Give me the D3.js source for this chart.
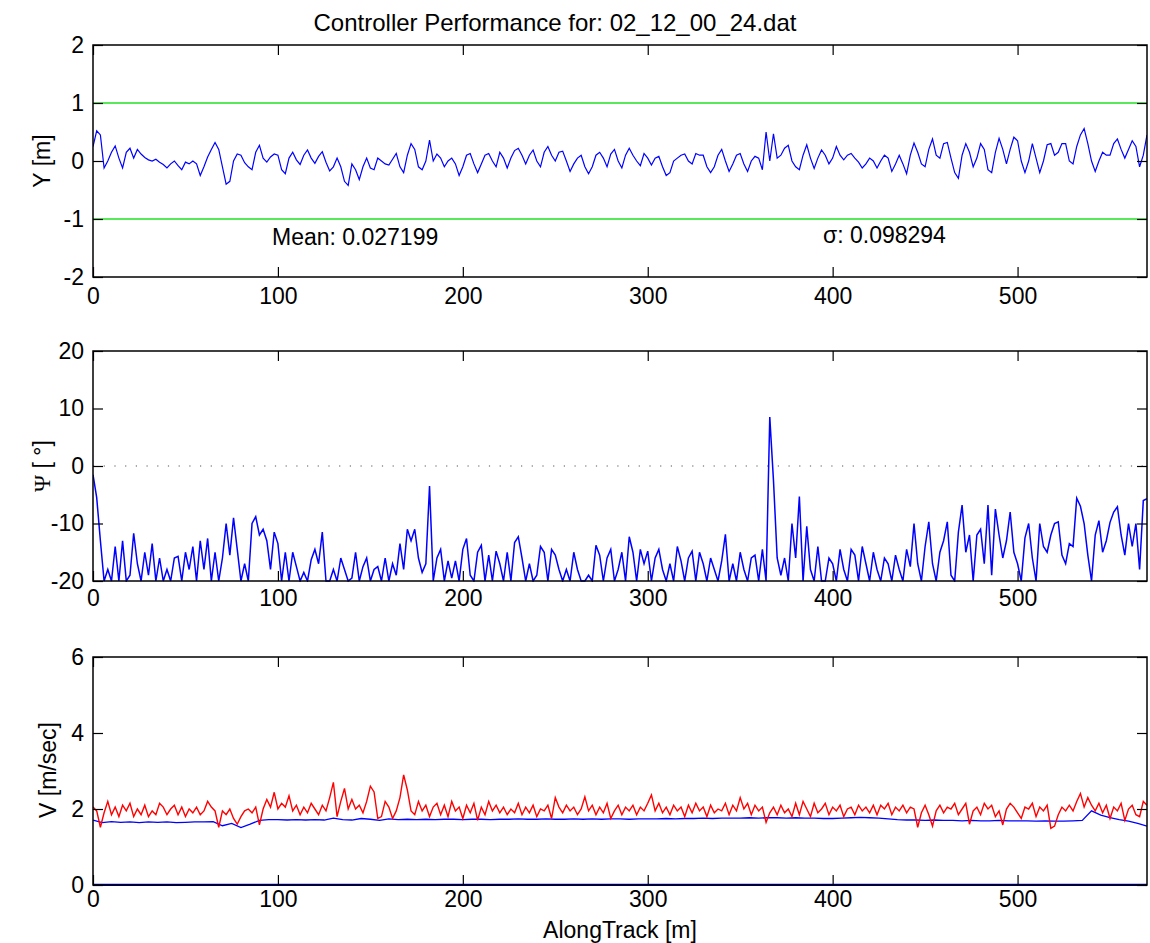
<!DOCTYPE html>
<html><head><meta charset="utf-8">
<script src="https://cdn.jsdelivr.net/npm/d3@7"></script>
<style>
body{margin:0;background:#fff;}
svg text{font-family:"Liberation Sans",Arial,Helvetica,sans-serif;fill:#000;}
</style></head>
<body><svg id="c" width="1150" height="943"></svg>
<script>
// ---------- data ----------
const titleText = "Controller Performance for: 02_12_00_24.dat";
const xTicks = [0,100,200,300,400,500];
const yTicksY = [-2,-1,0,1,2];
const yTicksPsi = [-20,-10,0,10,20];
const yTicksV = [0,2,4,6];
const stepFine = 2;   // along-track spacing [m] of fine series
const stepBlueV = 5;  // along-track spacing [m] of blue V series
const limitLines = [-1, 1];
const meanText = "Mean: 0.027199";
const sigmaText = "σ: 0.098294";

const yDev = [
0.25,0.52,0.45,-0.12,0.0,0.15,0.26,0.05,-0.12,0.15,
0.22,0.05,0.2,0.12,0.06,0.02,0.0,0.03,-0.02,-0.06,
-0.12,-0.05,0.0,-0.08,-0.15,-0.02,-0.05,0.0,-0.05,-0.25,
-0.1,0.07,0.2,0.32,0.2,-0.1,-0.4,-0.35,0.0,0.12,
0.1,-0.03,-0.1,-0.15,0.15,0.27,0.05,-0.02,0.07,0.12,
0.1,-0.15,-0.22,0.05,0.15,0.02,-0.06,0.1,0.19,0.05,
-0.04,0.08,0.16,-0.02,-0.17,-0.1,0.05,-0.1,-0.35,-0.42,
-0.05,-0.15,-0.32,-0.1,0.05,-0.12,-0.15,0.05,0.0,-0.05,
-0.07,0.03,0.13,-0.1,-0.2,0.1,0.3,0.2,-0.1,-0.15,
0.0,0.36,0.0,0.12,0.05,-0.1,0.0,0.05,-0.05,-0.25,
-0.1,0.1,0.13,-0.05,-0.2,-0.05,0.1,0.13,0.0,-0.1,
0.15,0.05,-0.12,0.05,0.18,0.22,0.1,-0.05,0.1,0.19,
0.0,-0.1,0.15,0.25,0.1,0.0,0.15,0.17,0.0,-0.18,
-0.05,0.05,0.1,-0.1,-0.22,-0.1,0.1,0.15,0.05,-0.1,
0.12,0.2,0.0,-0.12,0.1,0.22,0.1,0.0,-0.08,0.13,
0.05,-0.07,0.05,0.08,-0.1,-0.25,-0.2,0.0,0.05,0.1,
0.12,0.0,-0.05,0.13,0.1,0.1,-0.1,-0.2,-0.1,0.1,
0.2,0.0,-0.18,-0.05,0.1,0.13,-0.05,-0.18,0.0,0.08,
0.05,-0.15,0.5,0.0,0.47,0.05,0.1,0.22,0.27,0.0,
-0.1,-0.15,0.1,0.28,0.05,-0.13,0.05,0.19,0.1,-0.05,
0.05,0.25,0.1,0.02,0.1,0.13,0.05,-0.02,-0.12,-0.05,
0.05,0.0,-0.12,0.0,0.1,0.05,-0.18,-0.05,0.1,-0.05,
-0.22,0.1,0.31,0.15,-0.05,-0.1,0.2,0.38,0.1,0.05,
0.3,0.32,0.05,-0.2,-0.3,0.1,0.3,0.15,-0.1,0.05,
0.3,0.2,-0.15,-0.2,0.15,0.39,0.2,-0.05,0.2,0.41,
0.35,0.0,-0.2,0.0,0.3,0.05,-0.2,0.0,0.28,0.3,
0.1,0.15,0.3,0.3,0.0,-0.05,0.25,0.45,0.56,0.3,
0.0,-0.18,0.0,0.15,0.1,0.1,0.3,0.38,0.2,0.05,
0.2,0.35,0.25,-0.1,0.1,0.45];

const psi = [
-1.5,-5.5,-13,-20,-18,-20,-14,-20,-13,-20,
-19,-11.7,-17,-20,-15,-19,-13.5,-20,-16,-20,
-18,-20,-16,-15.7,-20,-15,-18,-14,-20,-13,
-18,-12.6,-20,-15,-20,-16,-10,-15.5,-9,-14.5,
-20,-17,-20,-10,-8.8,-12,-11,-13,-18,-11.5,
-13.5,-20,-15,-20,-15,-17.5,-20,-18.5,-20,-16.3,
-14.5,-17,-11.5,-20,-20,-18,-20,-16,-18,-20,
-19.5,-15,-20,-17.5,-16,-20,-18,-17.5,-20,-16,
-20,-17,-19,-13.5,-18,-11,-13,-11,-16,-18.5,
-17,-3.5,-20,-16,-14.5,-20,-16.5,-19.5,-16.5,-20,
-14.5,-12.6,-19,-20,-15,-13.8,-20,-15.5,-20,-14.8,
-17,-20,-15,-20,-13.3,-12.3,-16,-20,-17,-20,
-19,-14,-15,-20,-14.5,-15.5,-18,-20,-18,-20,
-15,-18,-20,-20,-19,-20,-13.8,-15.5,-20,-16,
-14.5,-20,-18,-15,-20,-12.3,-15,-20,-14.5,-17,
-14.8,-20,-16,-14.5,-18,-20,-17,-20,-14,-16.5,
-20,-16,-14.8,-20,-15,-17,-20,-16,-18,-20,
-16.5,-11.9,-20,-17,-20,-15,-18,-20,-16,-15.5,
-20,-14.5,-20,8.5,-2.5,-16,-19,-16,-20,-10,
-16,-5.3,-20,-10.5,-18,-20,-14,-20,-20,-16,
-17,-20,-14.5,-18,-20,-14.5,-15.5,-20,-14,-17,
-20,-15,-18,-20,-16,-17,-20,-15.5,-18,-20,
-14.5,-17.5,-10,-17,-20,-14,-9.7,-17,-20,-15,
-13,-9.7,-19,-20,-11.5,-6.8,-15,-12,-20,-12,
-11,-17,-6.8,-19,-7.5,-12,-16,-13,-8,-15,
-17,-20,-12.5,-10,-16,-20,-10,-14,-15,-12,
-10,-9.7,-15.5,-17,-13.5,-14,-5.6,-7,-10,-15.5,
-20,-12,-9.5,-15,-13,-9.8,-8,-7.1,-12,-15.5,
-10,-14,-10,-18,-6,-5.7];

const vRed = [
2.05,1.95,1.52,1.9,2.2,1.85,2.05,1.8,2.1,1.95,
2.15,1.8,2.0,1.85,2.1,1.8,1.95,1.85,2.15,2.05,
1.85,2.0,2.1,1.85,2.05,1.8,2.0,1.9,2.05,1.85,
1.95,2.2,2.05,1.95,1.52,1.95,1.85,2.0,1.75,1.6,
1.8,1.95,2.0,1.9,2.05,1.58,2.0,2.25,2.05,2.44,
2.0,2.15,2.05,2.35,1.95,2.1,1.85,2.05,1.9,2.15,
2.0,1.85,2.1,1.95,2.3,2.7,1.8,2.2,2.54,2.0,
2.25,2.0,2.1,1.9,2.2,2.6,2.45,1.75,1.8,2.2,
2.05,1.75,1.95,2.3,2.9,2.5,1.95,1.85,2.2,1.95,
2.1,1.8,2.05,2.15,1.85,2.1,1.8,2.2,1.95,2.05,
1.75,2.1,1.9,2.15,1.7,2.05,1.85,2.2,1.95,2.1,
1.9,2.05,1.85,2.0,1.9,2.15,1.85,2.05,1.9,2.1,
1.8,2.0,1.95,2.1,1.75,2.3,2.05,1.9,2.1,1.95,
2.05,1.85,2.0,2.32,1.95,2.1,1.85,2.05,1.9,2.15,
1.75,1.95,2.1,1.85,2.05,1.95,2.1,1.85,2.05,1.95,
2.15,2.37,1.95,2.15,1.9,2.05,1.85,2.1,1.95,2.05,
1.8,2.1,1.9,2.15,1.95,2.05,1.8,2.1,1.9,2.0,
1.95,2.15,1.85,2.1,1.95,2.3,2.0,2.15,1.85,2.1,
1.95,2.05,1.65,1.9,2.05,1.85,2.1,1.9,2.0,1.8,
2.15,1.85,2.2,2.0,1.8,2.15,1.9,2.0,2.15,1.85,
2.05,1.95,2.1,1.8,2.0,2.05,1.85,2.1,1.95,2.05,
1.9,2.1,1.85,2.1,2.0,2.15,1.85,2.05,1.95,2.1,
1.9,2.05,2.0,1.52,1.9,2.1,1.85,1.55,1.95,2.1,
1.9,2.05,2.0,2.15,1.85,2.0,2.15,1.6,1.95,2.05,
1.85,2.15,2.0,2.1,1.8,1.95,1.58,2.0,2.15,2.05,
1.9,1.75,2.05,2.0,2.15,1.8,2.05,1.95,2.1,1.49,
1.55,1.85,2.05,1.95,2.1,1.95,2.2,2.41,2.05,2.3,
2.1,1.95,2.15,1.9,2.1,1.75,2.05,1.95,2.15,1.7,
2.0,2.1,1.85,1.8,2.2,2.1];

const vBlue = [
1.71,1.64,1.67,1.65,1.66,1.64,1.66,1.65,1.66,1.64,
1.65,1.66,1.66,1.67,1.56,1.62,1.51,1.6,1.7,1.72,
1.72,1.71,1.72,1.71,1.72,1.71,1.76,1.72,1.71,1.75,
1.73,1.7,1.74,1.72,1.73,1.72,1.73,1.72,1.73,1.73,
1.72,1.73,1.73,1.72,1.73,1.73,1.74,1.73,1.73,1.74,
1.73,1.73,1.74,1.73,1.74,1.73,1.74,1.74,1.73,1.74,
1.74,1.74,1.75,1.74,1.75,1.75,1.76,1.75,1.76,1.76,
1.76,1.77,1.76,1.77,1.77,1.76,1.77,1.76,1.76,1.75,
1.75,1.76,1.77,1.78,1.77,1.76,1.74,1.72,1.71,1.71,
1.7,1.71,1.7,1.7,1.69,1.7,1.69,1.69,1.7,1.69,
1.69,1.69,1.68,1.69,1.68,1.68,1.69,1.7,1.95,1.84,
1.77,1.72,1.68,1.62,1.55];
const vZero = [0, 0];

// ---------- drawing ----------
const svg = d3.select("#c");
const xDomain = [0, 570];
const x = d3.scaleLinear().domain(xDomain).range([93, 1147]);
const FS = 23;
const fmt = d => String(d);

const panels = [
  {top:45, bottom:277, domain:[-2,2], ticks:yTicksY, pad:11},
  {top:351, bottom:581, domain:[-20,20], ticks:yTicksPsi, pad:9},
  {top:657, bottom:885, domain:[0,6], ticks:yTicksV, pad:6}
];

function toPts(arr, step){ return arr.map((v,i)=>[i*step, v]); }

panels.forEach((p, idx) => {
  const y = d3.scaleLinear().domain(p.domain).range([p.bottom, p.top]);
  p.y = y;
  const g = svg.append("g");
  const cid = "clip" + idx;
  svg.append("clipPath").attr("id", cid).append("rect")
    .attr("x", 93).attr("y", p.top - 1).attr("width", 1147-93).attr("height", p.bottom-p.top + 2);
  p.plot = g.append("g").attr("clip-path", `url(#${cid})`);
  p.g = g;
});

const line = (y) => d3.line().x(d => x(d[0])).y(d => y(d[1]));

// panel 1
{
  const p = panels[0];
  limitLines.forEach(v => {
    p.plot.append("path").datum([[xDomain[0], v],[xDomain[1], v]])
      .attr("d", line(p.y)).attr("fill","none").attr("stroke","#22e022").attr("stroke-width",1.3);
  });
  p.plot.append("path").datum(toPts(yDev, stepFine))
    .attr("d", line(p.y)).attr("fill","none").attr("stroke","#0000ff").attr("stroke-width",1.2);
}
// panel 2
{
  const p = panels[1];
  p.plot.append("path").datum([[xDomain[0],0],[xDomain[1],0]])
    .attr("d", line(p.y)).attr("fill","none").attr("stroke","#555")
    .attr("stroke-width",1.2).attr("stroke-dasharray","1.2,9.5");
  p.plot.append("path").datum(toPts(psi, stepFine))
    .attr("d", line(p.y)).attr("fill","none").attr("stroke","#0000ff").attr("stroke-width",1.5);
}
// panel 3
{
  const p = panels[2];
  p.plot.append("path").datum(vZero.map((v,i)=>[xDomain[i], v]))
    .attr("d", line(p.y)).attr("fill","none").attr("stroke","#0000ff").attr("stroke-width",2.5);
  p.plot.append("path").datum(toPts(vBlue, stepBlueV))
    .attr("d", line(p.y)).attr("fill","none").attr("stroke","#0000ff").attr("stroke-width",1.3);
  p.plot.append("path").datum(toPts(vRed, stepFine))
    .attr("d", line(p.y)).attr("fill","none").attr("stroke","#ff0000").attr("stroke-width",1.4);
}

// axes
panels.forEach(p => {
  const g = p.g;
  const h = p.bottom - p.top;
  const bx = g.append("g").attr("transform",`translate(0,${p.bottom})`)
    .call(d3.axisBottom(x).tickValues(xTicks).tickSize(-10).tickPadding(p.pad).tickFormat(fmt));
  const tx = g.append("g").attr("transform",`translate(0,${p.top})`)
    .call(d3.axisTop(x).tickValues(xTicks).tickSize(-10).tickFormat(""));
  const ly = g.append("g").attr("transform",`translate(93,0)`)
    .call(d3.axisLeft(p.y).tickValues(p.ticks).tickSize(-10).tickPadding(9).tickFormat(fmt));
  const ry = g.append("g").attr("transform",`translate(1147,0)`)
    .call(d3.axisRight(p.y).tickValues(p.ticks).tickSize(-10).tickFormat(""));
  [bx,tx,ly,ry].forEach(a => {
    a.select(".domain").remove();
    a.selectAll(".tick line").attr("stroke","#000").attr("stroke-width",1.2);
    a.selectAll(".tick text").style("font-size", FS+"px").style("font-family","Liberation Sans, Arial, sans-serif");
  });
  g.append("rect").attr("x",93).attr("y",p.top).attr("width",1147-93).attr("height",h)
    .attr("fill","none").attr("stroke","#000").attr("stroke-width",1.5);
});

// texts
function p0y(v){ return panels[0].y(v); }
svg.append("text").attr("x", 555).attr("y", 31).attr("text-anchor","middle")
  .style("font-size", "24px").text(titleText);
svg.append("text").attr("x", 272).attr("y", p0y(-1.45)).style("font-size", FS+"px").text(meanText);
svg.append("text").attr("x", 823).attr("y", p0y(-1.42)).style("font-size", FS+"px").text(sigmaText);

function ylabel(cx, cy, build){
  const t = svg.append("text").attr("transform",`translate(${cx},${cy}) rotate(-90)`)
    .attr("text-anchor","middle").style("font-size", FS+"px");
  build(t);
}
ylabel(50, 161, t => t.text("Y [m]"));
ylabel(50, 466, t => {
  t.append("tspan").style("font-family","Liberation Serif, Times New Roman, serif").text("Ψ");
  t.append("tspan").text(" [ °]");
});
ylabel(56, 770, t => t.text("V [m/sec]"));
svg.append("text").attr("x", 620).attr("y", 938).attr("text-anchor","middle")
  .style("font-size", FS+"px").text("AlongTrack [m]");
</script></body></html>
